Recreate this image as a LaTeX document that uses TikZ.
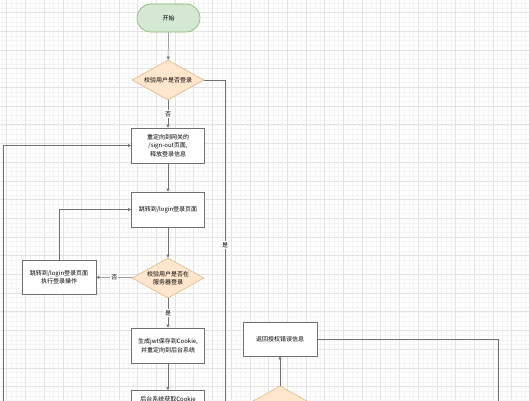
\documentclass[tikz,border=0pt]{standalone}
\usepackage{fontspec}
\setmainfont{Noto Sans CJK SC}
\usetikzlibrary{shapes.geometric,arrows.meta}
\definecolor{startfill}{HTML}{D5E8D4}
\definecolor{startline}{HTML}{82B366}
\definecolor{diafill}{HTML}{FFE6CC}
\definecolor{dialine}{HTML}{D7B27A}
\definecolor{edgecol}{HTML}{707070}
\begin{document}
\begin{tikzpicture}[x=1pt,y=-1pt,
  txt/.style={font=\fontsize{6}{8.5}\selectfont, align=center, text=black},
  box/.style={draw=edgecol, fill=white, line width=0.5pt, minimum width=73pt, minimum height=35pt, inner sep=0pt, txt},
  startnode/.style={draw=startline, fill=startfill, line width=0.6pt, rounded corners=14pt, minimum width=63pt, minimum height=28pt, inner sep=0pt, txt},
  dia/.style={diamond, draw=dialine, fill=diafill, line width=0.5pt, minimum width=72pt, minimum height=40pt, inner sep=0pt},
  line/.style={draw=edgecol, line width=0.5pt},
  arr/.style={line, -{Triangle[length=3.2pt,width=3pt]}},
  lbl/.style={txt, fill=white, inner sep=1pt},
  gminor/.style={draw=black!4, line width=0.4pt},
  gmajor/.style={draw=black!11, line width=0.5pt}
]
\useasboundingbox (0,0) rectangle (529,400);
\clip (0,0) rectangle (529,400);
\fill[white] (0,0) rectangle (529,400);
% grid
\foreach \i in {0,...,115} { \draw[gminor] ({2.0+\i*4.675},0) -- ++(0,400); }
\foreach \j in {0,...,86} { \draw[gminor] (0,{3.15+\j*4.675}) -- ++(529,0); }
\foreach \i in {0,...,28} { \draw[gmajor] ({6.7+\i*18.7},0) -- ++(0,400); }
\foreach \j in {0,...,21} { \draw[gmajor] (0,{12.5+\j*18.7}) -- ++(529,0); }

% nodes
\node[startnode] (start) at (168.5,18) {开始};
\node[dia, label={[txt]center:校验用户是否登录}] (d1) at (168,80) {};
\node[box] (b1) at (168,145.5) {重定向到网关的\\/sign-out页面,\\释放登录信息};
\node[box] (b2) at (168,209.5) {跳转到/login登录页面};
\node[dia, label={[txt]center:校验用户是否在\\服务器登录}] (d2) at (168,278) {};
\node[box, minimum width=74pt, minimum height=34pt] (b3) at (59,277) {跳转到/login登录页面\\执行登录操作};
\node[box] (b4) at (168,345.5) {生成jwt保存到Cookie,\\并重定向到后台系统};
\node[box] (b5) at (168,408) {};
\node[txt] (b5t) at (168,399) {后台系统获取Cookie};
\node[box, minimum width=74pt, minimum height=34pt] (b6) at (280,339) {返回授权错误信息};
\node[dia] (d3) at (280,406) {};

\coordinate (rightend) at (225,420);
\coordinate (leftend) at (3,420);
\coordinate (farright) at (498,420);

% connectors
\draw[arr] (start) -- (d1);
\draw[arr] (d1) -- node[lbl] {否} (b1);
\draw[arr] (b1) -- (b2);
\draw[arr] (b2) -- (d2);
\draw[arr] (d2) -- node[lbl] {否} (b3);
\draw[arr] (d2) -- node[lbl] {是} (b4);
\draw[arr] (b4) -- (b5);
\draw[arr] (b3.north) |- (b2.west);
\draw[line] (d1.east) -| (rightend);
\node[lbl] at (225,245) {是};
\draw[arr] (leftend) |- (b1.west);
\draw[arr] (d3.north) -- (b6.south);
\draw[line] (b6.east) -| (farright);
\end{tikzpicture}
\end{document}
